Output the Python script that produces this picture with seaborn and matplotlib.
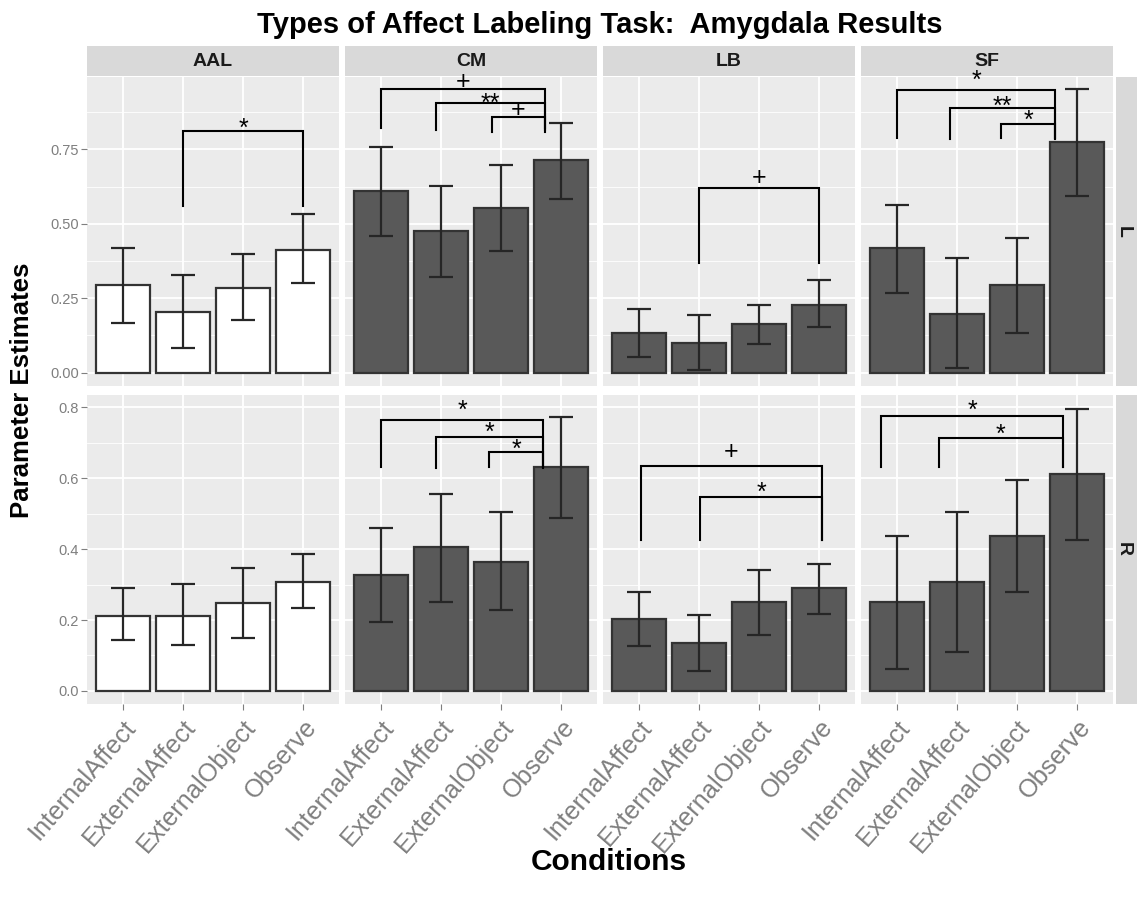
import numpy as np
import pandas as pd
import matplotlib
matplotlib.use("Agg")
import matplotlib.pyplot as plt
import matplotlib.transforms as mtransforms
import seaborn as sns

plt.rcParams["font.family"] = ["Liberation Sans", "DejaVu Sans"]

conditions = ["InternalAffect", "ExternalAffect", "ExternalObject", "Observe"]
tasks = ["AAL", "CM", "LB", "SF"]
hemispheres = ["L", "R"]

# Left amygdala: estimate and error-bar limits per task (conditions in order)
left_mean = {"AAL": [0.294, 0.205, 0.285, 0.413],
             "CM": [0.609, 0.477, 0.554, 0.713],
             "LB": [0.134, 0.099, 0.162, 0.227],
             "SF": [0.418, 0.198, 0.294, 0.773]}
left_low = {"AAL": [0.168, 0.081, 0.176, 0.300],
            "CM": [0.459, 0.322, 0.409, 0.583],
            "LB": [0.052, 0.008, 0.095, 0.154],
            "SF": [0.269, 0.016, 0.134, 0.594]}
left_high = {"AAL": [0.418, 0.329, 0.399, 0.533],
             "CM": [0.758, 0.627, 0.697, 0.837],
             "LB": [0.215, 0.194, 0.227, 0.310],
             "SF": [0.564, 0.384, 0.453, 0.953]}

# Right amygdala
right_mean = {"AAL": [0.212, 0.212, 0.247, 0.308],
              "CM": [0.327, 0.406, 0.364, 0.631],
              "LB": [0.202, 0.134, 0.250, 0.289],
              "SF": [0.250, 0.306, 0.438, 0.613]}
right_low = {"AAL": [0.144, 0.130, 0.150, 0.234],
             "CM": [0.194, 0.251, 0.227, 0.489],
             "LB": [0.126, 0.055, 0.159, 0.218],
             "SF": [0.061, 0.109, 0.280, 0.425]}
right_high = {"AAL": [0.289, 0.303, 0.346, 0.387],
              "CM": [0.461, 0.555, 0.505, 0.772],
              "LB": [0.280, 0.213, 0.342, 0.359],
              "SF": [0.438, 0.505, 0.596, 0.796]}

# Significance brackets: hemisphere, task, left x, right x, bar height, leg end, mark, mark height
brackets = [
    ("L", "AAL", 1.00, 3.00, 0.810, 0.558, "*", 0.845),
    ("L", "CM", 0.00, 2.73, 0.954, 0.821, "+", 0.980),
    ("L", "CM", 0.92, 2.73, 0.905, 0.815, "**", 0.927),
    ("L", "CM", 1.85, 2.73, 0.858, 0.807, "+", 0.886),
    ("L", "LB", 1.00, 3.00, 0.620, 0.368, "+", 0.660),
    ("L", "SF", 0.00, 2.64, 0.948, 0.787, "*", 1.005),
    ("L", "SF", 0.88, 2.64, 0.889, 0.784, "**", 0.919),
    ("L", "SF", 1.74, 2.64, 0.836, 0.787, "*", 0.872),
    ("R", "CM", 0.00, 2.70, 0.764, 0.633, "*", 0.810),
    ("R", "CM", 0.92, 2.70, 0.716, 0.630, "*", 0.750),
    ("R", "CM", 1.80, 2.70, 0.673, 0.633, "*", 0.700),
    ("R", "LB", 0.03, 3.05, 0.636, 0.426, "+", 0.678),
    ("R", "LB", 1.02, 3.05, 0.546, 0.426, "*", 0.581),
    ("R", "SF", -0.26, 2.76, 0.777, 0.633, "*", 0.810),
    ("R", "SF", 0.70, 2.76, 0.715, 0.633, "*", 0.745),
]

y_ticks = {"L": [0.0, 0.25, 0.50, 0.75], "R": [0.0, 0.2, 0.4, 0.6, 0.8]}
y_tick_labels = {"L": ["0.00", "0.25", "0.50", "0.75"],
                 "R": ["0.0", "0.2", "0.4", "0.6", "0.8"]}
y_minor = {"L": [0.125, 0.375, 0.625, 0.875], "R": [0.1, 0.3, 0.5, 0.7]}
y_limits = {"L": (-0.045, 0.993), "R": (-0.037, 0.835)}

rows = []
for hemi, means, lows, highs in [("L", left_mean, left_low, left_high),
                                 ("R", right_mean, right_low, right_high)]:
    for task in tasks:
        for cond, m, lo, hi in zip(conditions, means[task], lows[task], highs[task]):
            rows.append({"hemisphere": hemi, "task": task, "condition": cond,
                         "estimate": m, "lower": lo, "upper": hi})
df = pd.DataFrame(rows)

W, H = 1137, 902
fig = plt.figure(figsize=(W / 100, H / 100), dpi=100)


def box(x0, y0, x1, y1):
    return [x0 / W, 1 - y1 / H, (x1 - x0) / W, (y1 - y0) / H]


panel_x = [87, 345, 603, 861]
panel_w = 252
row_y = {"L": (77, 386), "R": (395, 704)}
grey_text = "#7F7F7F"
strip_bg = "#D9D9D9"
mark_size = 18
# glyph centre above the baseline, as a fraction of the font size
mark_lift = {"*": 0.58, "**": 0.58, "+": 0.34}

# facet strips (drawn first so panel annotations can overlap them)
for j, task in enumerate(tasks):
    sax = fig.add_axes(box(panel_x[j], 46, panel_x[j] + panel_w, 76))
    sax.set_facecolor(strip_bg)
    sax.set_xticks([]); sax.set_yticks([])
    for s in sax.spines.values():
        s.set_visible(False)
    sax.text(0.5, 0.5, task, ha="center", va="center", fontsize=14,
             fontweight="bold", color="#1A1A1A", transform=sax.transAxes)

for hemi in hemispheres:
    y0, y1 = row_y[hemi]
    sax = fig.add_axes(box(1116, y0, 1140, y1))
    sax.set_facecolor(strip_bg)
    sax.set_xticks([]); sax.set_yticks([])
    for s in sax.spines.values():
        s.set_visible(False)
    sax.text(0.32, 0.5, hemi, ha="center", va="center", fontsize=14,
             fontweight="bold", color="#1A1A1A", rotation=270,
             transform=sax.transAxes)

for i, hemi in enumerate(hemispheres):
    y0, y1 = row_y[hemi]
    for j, task in enumerate(tasks):
        ax = fig.add_axes(box(panel_x[j], y0, panel_x[j] + panel_w, y1))
        ax.set_facecolor("#EBEBEB")
        ax.set_axisbelow(True)
        sub = df[(df.hemisphere == hemi) & (df.task == task)]
        fill = "white" if task == "AAL" else "#595959"
        sns.barplot(data=sub, x="condition", y="estimate", order=conditions,
                    color=fill, saturation=1, edgecolor="#333333",
                    linewidth=1.6, width=0.9, errorbar=None, ax=ax, zorder=2)
        est = sub["estimate"].to_numpy()
        ax.errorbar(np.arange(len(conditions)), est,
                    yerr=[est - sub["lower"].to_numpy(), sub["upper"].to_numpy() - est],
                    fmt="none", ecolor="#262626", elinewidth=1.6, capsize=8.6,
                    capthick=1.6, zorder=3)

        for (bh, bt, xa, xb, yb, yleg, mark, ymark) in brackets:
            if bh != hemi or bt != task:
                continue
            ax.plot([xa, xa, xb, xb], [yleg, yb, yb, yleg], color="black",
                    lw=1.5, zorder=4, solid_joinstyle="miter")
            tr = mtransforms.offset_copy(ax.transData, fig=fig,
                                         y=-mark_lift[mark] * mark_size,
                                         units="points")
            ax.text((xa + xb) / 2, ymark, mark, ha="center", va="baseline",
                    fontsize=mark_size, color="black", zorder=5,
                    clip_on=False, transform=tr)

        ax.set_xlim(-0.6, 3.6)
        ax.set_ylim(*y_limits[hemi])
        ax.set_yticks(y_ticks[hemi])
        ax.set_yticks(y_minor[hemi], minor=True)
        ax.grid(which="major", color="white", lw=1.3)
        ax.grid(which="minor", axis="y", color="white", lw=0.6)
        ax.set_xlabel(""); ax.set_ylabel("")
        for s in ax.spines.values():
            s.set_visible(False)
        ax.tick_params(which="minor", length=0)

        if j == 0:
            ax.set_yticklabels(y_tick_labels[hemi])
            ax.tick_params(axis="y", which="major", length=4, color=grey_text,
                           labelsize=10.5, labelcolor=grey_text, pad=2)
        else:
            ax.tick_params(axis="y", which="major", length=0, labelleft=False)

        if hemi == "R":
            ax.set_xticks(range(len(conditions)))
            ax.set_xticklabels(conditions, rotation=49, ha="right",
                               rotation_mode="anchor")
            ax.tick_params(axis="x", length=4, color=grey_text, labelsize=18.3,
                           labelcolor=grey_text, pad=4)
        else:
            ax.tick_params(axis="x", length=0, labelbottom=False)

fig.text(600 / W, 1 - 25 / H, "Types of Affect Labeling Task:  Amygdala Results",
         ha="center", va="center", fontsize=21, fontweight="bold", color="black")
fig.text(609 / W, 1 - 862 / H, "Conditions", ha="center", va="center",
         fontsize=21.5, fontweight="bold", color="black")
fig.text(22 / W, 1 - 390 / H, "Parameter Estimates", ha="center", va="center",
         rotation=90, fontsize=18.5, fontweight="bold", color="black")

fig.savefig("out.png", dpi=100)
